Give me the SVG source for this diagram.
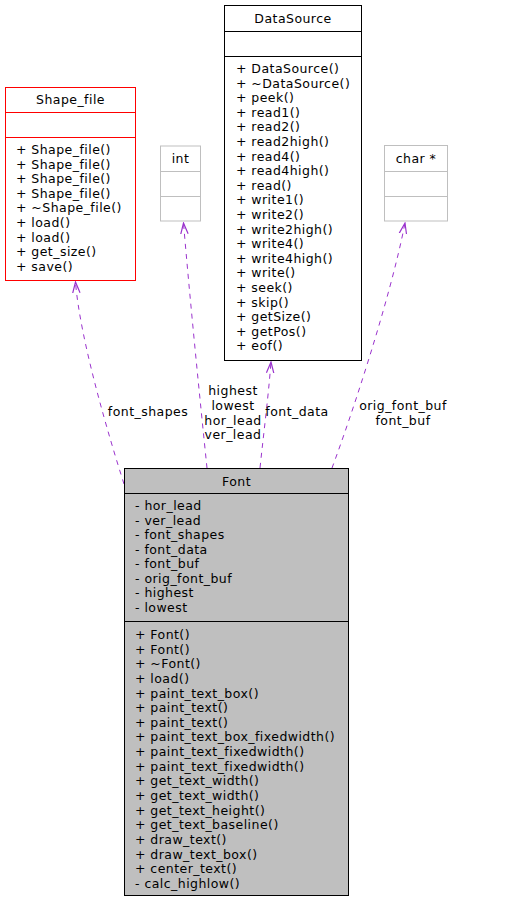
<svg xmlns="http://www.w3.org/2000/svg" width="509" height="901" viewBox="0 0 509 901">
<style>
text { font-family: "DejaVu Sans", sans-serif; font-size: 12.5px; letter-spacing: 0.45px; fill: #000; }
.t { text-anchor: middle; }
.edge { fill: none; stroke: #9a32cd; stroke-width: 1; stroke-dasharray: 5,5; }
.lbl { text-anchor: middle; }
</style>
<defs>
<marker id="arr" viewBox="0 0 12 10" refX="11" refY="5" markerWidth="12" markerHeight="10" markerUnits="userSpaceOnUse" orient="auto">
<path d="M0,1.3 L11,5 L0,8.7" fill="none" stroke="#9a32cd" stroke-width="1.2"/>
</marker>
</defs>
<rect width="509" height="901" fill="#ffffff"/>

<g id="connectors">
<path class="edge" d="M124,484 C110,440 80,340 75.5,282" marker-end="url(#arr)"/>
<path class="edge" d="M207,468 C200,400 190,300 183.5,223" marker-end="url(#arr)"/>
<path class="edge" d="M260,468 C264,430 268,400 271,362" marker-end="url(#arr)"/>
<path class="edge" d="M332,468 C350,420 390,300 405,223" marker-end="url(#arr)"/>
<text class="lbl" x="148" y="416">font_shapes</text>
<text class="lbl" x="233" y="395">highest</text>
<text class="lbl" x="233" y="410">lowest</text>
<text class="lbl" x="233" y="424.5">hor_lead</text>
<text class="lbl" x="233" y="439">ver_lead</text>
<text class="lbl" x="297" y="416">font_data</text>
<text class="lbl" x="403" y="410">orig_font_buf</text>
<text class="lbl" x="403" y="424.5">font_buf</text>
</g>

<g id="Shape_file">
<rect x="5.5" y="87.5" width="130" height="193" fill="#ffffff" stroke="#ff0000"/>
<line x1="5.5" y1="112.5" x2="135.5" y2="112.5" stroke="#ff0000"/>
<line x1="5.5" y1="137.5" x2="135.5" y2="137.5" stroke="#ff0000"/>
<text class="t" x="70.5" y="104">Shape_file</text>
<text x="16" y="154">+ Shape_file()</text>
<text x="16" y="168.6">+ Shape_file()</text>
<text x="16" y="183.2">+ Shape_file()</text>
<text x="16" y="197.8">+ Shape_file()</text>
<text x="16" y="212.4">+ ~Shape_file()</text>
<text x="16" y="227">+ load()</text>
<text x="16" y="241.6">+ load()</text>
<text x="16" y="256.2">+ get_size()</text>
<text x="16" y="270.8">+ save()</text>
</g>

<g id="int">
<rect x="160.5" y="146" width="40" height="75" fill="#ffffff" stroke="#bfbfbf"/>
<line x1="160.5" y1="171.5" x2="200.5" y2="171.5" stroke="#bfbfbf"/>
<line x1="160.5" y1="196.5" x2="200.5" y2="196.5" stroke="#bfbfbf"/>
<text class="t" x="180.5" y="163">int</text>
</g>

<g id="DataSource">
<rect x="224.5" y="5.5" width="137" height="355" fill="#ffffff" stroke="#000000"/>
<line x1="224.5" y1="31.5" x2="361.5" y2="31.5" stroke="#000000"/>
<line x1="224.5" y1="56.5" x2="361.5" y2="56.5" stroke="#000000"/>
<text class="t" x="293" y="23">DataSource</text>
<text x="236" y="73">+ DataSource()</text>
<text x="236" y="87.6">+ ~DataSource()</text>
<text x="236" y="102.2">+ peek()</text>
<text x="236" y="116.8">+ read1()</text>
<text x="236" y="131.4">+ read2()</text>
<text x="236" y="146">+ read2high()</text>
<text x="236" y="160.6">+ read4()</text>
<text x="236" y="175.2">+ read4high()</text>
<text x="236" y="189.8">+ read()</text>
<text x="236" y="204.4">+ write1()</text>
<text x="236" y="219">+ write2()</text>
<text x="236" y="233.6">+ write2high()</text>
<text x="236" y="248.2">+ write4()</text>
<text x="236" y="262.8">+ write4high()</text>
<text x="236" y="277.4">+ write()</text>
<text x="236" y="292">+ seek()</text>
<text x="236" y="306.6">+ skip()</text>
<text x="236" y="321.2">+ getSize()</text>
<text x="236" y="335.8">+ getPos()</text>
<text x="236" y="350.4">+ eof()</text>
</g>

<g id="char_ptr">
<rect x="384.5" y="145.5" width="63" height="75.5" fill="#ffffff" stroke="#bfbfbf"/>
<line x1="384.5" y1="171.5" x2="447.5" y2="171.5" stroke="#bfbfbf"/>
<line x1="384.5" y1="196.5" x2="447.5" y2="196.5" stroke="#bfbfbf"/>
<text class="t" x="416" y="163">char *</text>
</g>

<g id="Font">
<rect x="124.5" y="468.5" width="224" height="427" fill="#bfbfbf" stroke="#000000"/>
<line x1="124.5" y1="493.5" x2="348.5" y2="493.5" stroke="#000000"/>
<line x1="124.5" y1="621.5" x2="348.5" y2="621.5" stroke="#000000"/>
<text class="t" x="236.5" y="486">Font</text>
<text x="135" y="510">- hor_lead</text>
<text x="135" y="524.5">- ver_lead</text>
<text x="135" y="539">- font_shapes</text>
<text x="135" y="553.6">- font_data</text>
<text x="135" y="568.1">- font_buf</text>
<text x="135" y="582.6">- orig_font_buf</text>
<text x="135" y="597.2">- highest</text>
<text x="135" y="611.7">- lowest</text>
<text x="135" y="639">+ Font()</text>
<text x="135" y="653.6">+ Font()</text>
<text x="135" y="668.3">+ ~Font()</text>
<text x="135" y="682.9">+ load()</text>
<text x="135" y="697.5">+ paint_text_box()</text>
<text x="135" y="712.2">+ paint_text()</text>
<text x="135" y="726.8">+ paint_text()</text>
<text x="135" y="741.4">+ paint_text_box_fixedwidth()</text>
<text x="135" y="756">+ paint_text_fixedwidth()</text>
<text x="135" y="770.7">+ paint_text_fixedwidth()</text>
<text x="135" y="785.3">+ get_text_width()</text>
<text x="135" y="799.9">+ get_text_width()</text>
<text x="135" y="814.6">+ get_text_height()</text>
<text x="135" y="829.2">+ get_text_baseline()</text>
<text x="135" y="843.8">+ draw_text()</text>
<text x="135" y="858.5">+ draw_text_box()</text>
<text x="135" y="873.1">+ center_text()</text>
<text x="135" y="887.7">- calc_highlow()</text>
</g>
</svg>
